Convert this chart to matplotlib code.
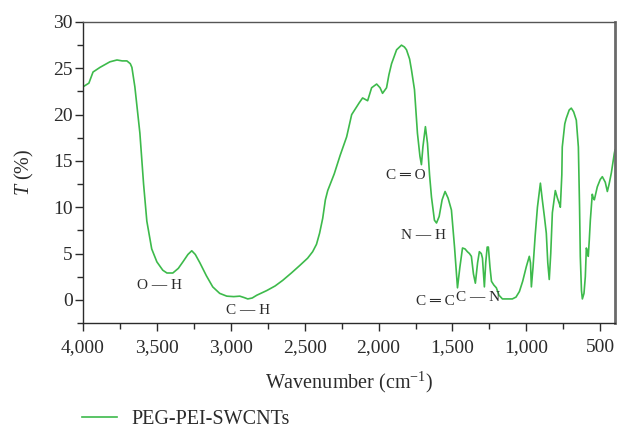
import matplotlib
matplotlib.use("Agg")
import matplotlib.pyplot as plt
from matplotlib.ticker import MultipleLocator, StrMethodFormatter
from matplotlib.lines import Line2D

# FTIR spectrum
wavenumber = [4000, 3960, 3932, 3885, 3818, 3770, 3735, 3703, 3680, 3669,
              3649, 3615, 3590, 3568, 3535, 3500, 3460, 3432, 3392, 3355,
              3324, 3290, 3264, 3240, 3209, 3165, 3122, 3075, 3027, 2980,
              2939, 2910, 2885, 2855, 2824, 2757, 2700, 2649, 2590, 2534,
              2480, 2446, 2420, 2399, 2378, 2360, 2344, 2300, 2260, 2216,
              2182, 2162, 2130, 2108, 2085, 2074, 2047, 2013, 1990, 1973,
              1946, 1930, 1912, 1878, 1845, 1825, 1811, 1790, 1777, 1757,
              1737, 1720, 1710, 1700, 1683, 1669, 1655, 1642, 1622, 1608,
              1590, 1570, 1550, 1530, 1507, 1486, 1466, 1450, 1432, 1415,
              1399, 1385, 1372, 1358, 1345, 1330, 1318, 1305, 1297, 1284,
              1275, 1265, 1257, 1246, 1236, 1220, 1203, 1185, 1162, 1095,
              1070, 1047, 1025, 1000, 980, 972, 966, 955, 940, 925,
              905, 892, 878, 865, 855, 845, 835, 824, 804, 790,
              775, 770, 760, 757, 740, 730, 710, 696, 680, 662,
              648, 640, 635, 627, 621, 610, 601, 594, 587, 581,
              574, 567, 554, 547, 540, 530, 520, 500, 486, 466,
              452, 440, 425, 405, 400]
transmittance = [23.0, 23.4, 24.6, 25.1, 25.7, 25.9, 25.8, 25.8, 25.5, 25.1,
                 23.0, 18.0, 12.5, 8.5, 5.5, 4.1, 3.2, 2.9, 2.9, 3.4,
                 4.1, 4.9, 5.3, 4.9, 4.0, 2.6, 1.4, 0.7, 0.4, 0.35,
                 0.4, 0.25, 0.1, 0.2, 0.5, 1.0, 1.5, 2.1, 2.9, 3.7,
                 4.5, 5.2, 6.0, 7.2, 8.8, 10.8, 11.8, 13.6, 15.6, 17.6,
                 20.0, 20.5, 21.3, 21.8, 21.6, 21.5, 22.9, 23.3, 22.9, 22.3,
                 22.9, 24.3, 25.5, 27.0, 27.5, 27.3, 27.0, 26.0, 24.8, 22.7,
                 18.0, 15.5, 14.6, 16.5, 18.7, 16.9, 13.5, 11.1, 8.6, 8.3,
                 9.0, 10.8, 11.7, 11.0, 9.7, 5.7, 1.3, 3.5, 5.6, 5.5,
                 5.2, 5.0, 4.7, 2.8, 1.8, 4.0, 5.2, 5.0, 4.5, 1.4,
                 4.0, 5.7, 5.7, 3.5, 2.0, 1.6, 1.3, 0.5, 0.1, 0.1,
                 0.3, 0.9, 2.0, 3.6, 4.7, 4.0, 1.4, 3.5, 7.0, 10.0,
                 12.6, 10.8, 9.0, 7.2, 4.0, 2.2, 5.0, 9.4, 11.8, 11.0,
                 10.3, 10.0, 13.5, 16.5, 19.0, 19.6, 20.5, 20.7, 20.3, 19.4,
                 16.5, 10.0, 4.7, 1.0, 0.1, 0.7, 2.5, 5.6, 5.2, 4.7,
                 6.5, 8.6, 11.4, 11.0, 10.8, 11.5, 12.2, 13.0, 13.3, 12.7,
                 11.7, 12.5, 13.7, 15.8, 16.2]

# band labels and where they sit (wavenumber, T)
band_labels = ["O \u2014 H", "C \u2014 H", "C \u2550 O", "N \u2014 H", "C \u2550 C", "C \u2014 N"]
band_x = [3480, 2885, 1817, 1696, 1618, 1324]
band_y = [1.5, -1.2, 13.4, 6.9, -0.15, 0.25]

series_name = "PEG-PEI-SWCNTs"
green = "#3dba4b"
ink = "#2b2b2b"

plt.rcParams["font.family"] = ["Liberation Serif", "DejaVu Serif"]
plt.rcParams["mathtext.fontset"] = "custom"
plt.rcParams["mathtext.rm"] = "Liberation Serif"
plt.rcParams["mathtext.it"] = "Liberation Serif:italic"

fig = plt.figure(figsize=(6.17, 4.28), dpi=100)
ax = fig.add_axes([0.1345, 0.2453, 0.8623, 0.7033])

ax.plot(wavenumber, transmittance, color=green, lw=1.2, solid_joinstyle="round")

ax.set_xlim(4000, 400)
ax.set_ylim(-2.5, 30)
ax.xaxis.set_major_locator(MultipleLocator(500))
ax.xaxis.set_minor_locator(MultipleLocator(250))
ax.yaxis.set_major_locator(MultipleLocator(5))
ax.yaxis.set_minor_locator(MultipleLocator(2.5))
ax.xaxis.set_major_formatter(StrMethodFormatter("{x:,.0f}"))

ax.tick_params(which="both", direction="out", colors=ink, labelsize=14, width=1.0)
ax.tick_params(which="major", length=5.5)
ax.tick_params(which="minor", length=4)
ax.tick_params(axis="x", pad=6)
ax.tick_params(axis="y", pad=2)

for side in ["left", "bottom"]:
    ax.spines[side].set_color(ink)
    ax.spines[side].set_linewidth(1.0)
ax.spines["top"].set_color("#555555")
ax.spines["top"].set_linewidth(1.0)
ax.spines["right"].set_color("#6a6a6a")
ax.spines["right"].set_linewidth(2.0)

ax.set_xlabel("Wavenumber (cm$^{-1}$)", fontsize=14.5, color=ink)
ax.set_ylabel("$T$ (%)", fontsize=14.5, color=ink)
ax.xaxis.set_label_coords(0.5, -0.156)
ax.yaxis.set_label_coords(-0.088, 0.5)

for lab, x, y in zip(band_labels, band_x, band_y):
    ax.text(x, y, lab, fontsize=11, color=ink, ha="center", va="center",
            family=["Liberation Serif", "DejaVu Sans"])

handle = Line2D([], [], color=green, lw=1.2)
fig.legend([handle], [series_name], loc="center left",
           bbox_to_anchor=(82 / 617, 1 - 419 / 428), frameon=False,
           fontsize=14.5, handlelength=1.75, handletextpad=0.7,
           borderpad=0, borderaxespad=0, labelcolor=ink)

fig.savefig("out.png", dpi=100)
